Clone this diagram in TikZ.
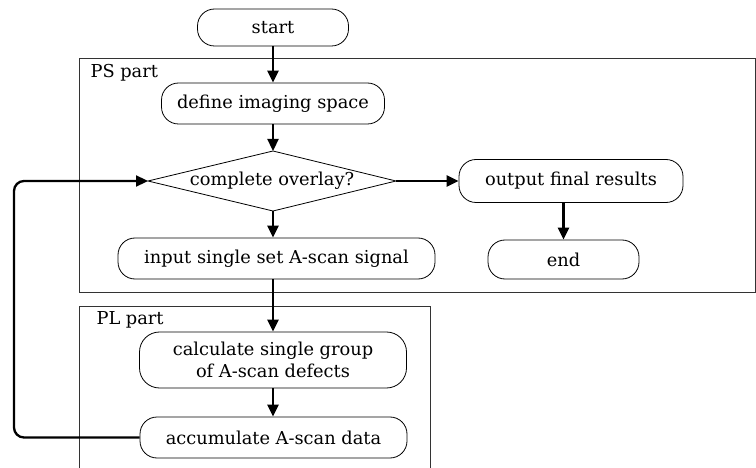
\documentclass[tikz,border=0pt]{standalone}
\usepackage{fontspec}
\setmainfont{DejaVu Serif}
\usetikzlibrary{arrows.meta}
\begin{document}
\begin{tikzpicture}[x=1pt,y=-1pt,
  every node/.style={font=\fontsize{17.8}{22}\selectfont},
  proc/.style={draw, line width=0.8pt, rounded corners=17pt, inner sep=0pt, align=center},
  frame/.style={draw=black!80, line width=0.9pt},
  flow/.style={line width=2.3pt, -{Triangle[length=12pt,width=11pt]}},
  loopline/.style={line width=2.3pt, rounded corners=10pt, -{Triangle[length=12pt,width=11pt]}}]
\useasboundingbox (0,0) rectangle (756,468);
% frames
\draw[frame] (79,58) rectangle (755,292);
\draw[frame] (79,468) -- (79,306) -- (430,306) -- (430,468);
\node[anchor=west] (pslab) at (87,73) {PS part};
\node[anchor=west] (pllab) at (93,320) {PL part};
% nodes
\node[proc, minimum width=151pt, minimum height=37pt] (start) at (273,27.5) {start};
\node[proc, minimum width=223pt, minimum height=41pt] (define) at (273,103.5) {define imaging space};
\node (dec) at (272,181) {complete overlay?};
\coordinate (decL) at (148,181);
\coordinate (decR) at (396,181);
\coordinate (decT) at (273,151);
\coordinate (decB) at (273,211);
\draw[line width=0.8pt] (decL) -- (decT) -- (decR) -- (decB) -- cycle;
\node[proc, minimum width=224pt, minimum height=43pt] (out) at (571,181) {output final results};
\node[proc, minimum width=151pt, minimum height=39pt] (end) at (563.5,259.5) {end};
\node[proc, minimum width=317pt, minimum height=41pt] (input) at (276.5,258.5) {input single set A-scan signal};
\node[proc, minimum width=267pt, minimum height=56pt, rounded corners=20pt] (calc) at (273,360) {calculate single group\\of A-scan defects};
\node[proc, minimum width=267pt, minimum height=41pt] (acc) at (273.5,437.5) {accumulate A-scan data};
% connectors
\draw[flow] (start.south) -- (define.north);
\draw[flow] (define.south) -- (decT);
\draw[flow] (decB) -- (decB |- input.north);
\draw[flow] (input.south -| calc.north) -- (calc.north);
\draw[flow] (calc.south) -- (acc.north -| calc.south);
\draw[flow] (decR) -- (out.west);
\draw[flow] (end.north |- out.south) -- (end.north);
\draw[loopline] (acc.west) -- (14,437.5) -- (14,181) -- (decL);
\end{tikzpicture}
\end{document}
